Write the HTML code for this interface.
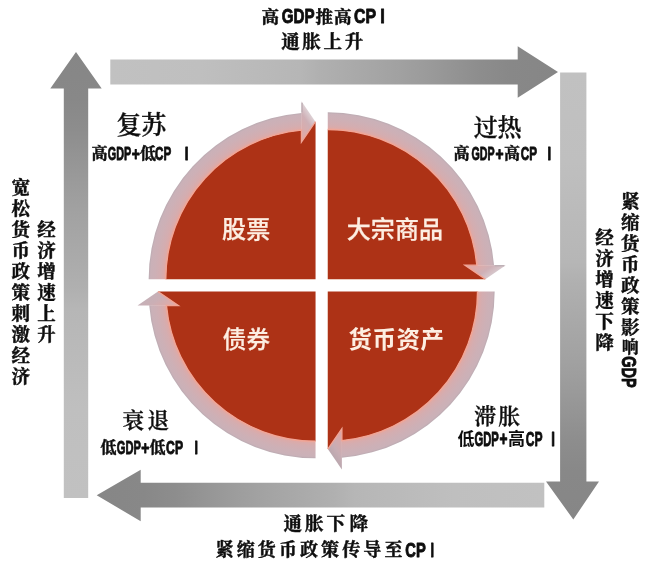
<!DOCTYPE html>
<html lang="zh-CN"><head><meta charset="utf-8"><title>美林投资时钟</title>
<style>html,body{margin:0;padding:0;background:#fff;}body{width:648px;height:563px;overflow:hidden;}svg{display:block;}
.kb{font-family:"Liberation Serif","Noto Serif CJK SC",serif;font-weight:700;fill:#0c0c0c;stroke:#0c0c0c;stroke-width:0.45;stroke-linejoin:round;}
.kr{font-family:"Liberation Serif","Noto Serif CJK SC",serif;font-weight:600;fill:#111;stroke:#111;stroke-width:0.35;stroke-linejoin:round;}
.hb{font-family:"Liberation Sans","Noto Sans CJK SC",sans-serif;font-weight:700;fill:#0c0c0c;}
.lb{font-family:"Liberation Sans",sans-serif;font-weight:700;fill:#0c0c0c;stroke:#0c0c0c;stroke-width:0.9;stroke-linejoin:round;}
.wh{font-family:"Liberation Sans","Noto Sans CJK SC",sans-serif;font-weight:500;fill:#fdeee2;stroke:#fdeee2;stroke-width:0.25;stroke-linejoin:round;}
.wk{font-family:"Liberation Sans","Noto Sans CJK SC",sans-serif;font-weight:700;fill:#fdeee2;}
</style></head><body>
<svg width="648" height="563" viewBox="0 0 648 563">
<defs>
<linearGradient id="gUp" gradientUnits="userSpaceOnUse" x1="0" y1="52" x2="0" y2="498"><stop offset="0.000" stop-color="#868686"/><stop offset="0.107" stop-color="#888888"/><stop offset="0.174" stop-color="#8d8d8d"/><stop offset="0.286" stop-color="#9a9a9a"/><stop offset="0.353" stop-color="#a1a1a1"/><stop offset="0.531" stop-color="#b0b0b0"/><stop offset="0.576" stop-color="#b6b6b6"/><stop offset="0.799" stop-color="#bfbfbf"/><stop offset="1.000" stop-color="#c1c1c1"/></linearGradient>
<linearGradient id="gRight" gradientUnits="userSpaceOnUse" x1="558" y1="0" x2="110" y2="0"><stop offset="0.000" stop-color="#868686"/><stop offset="0.107" stop-color="#888888"/><stop offset="0.174" stop-color="#8d8d8d"/><stop offset="0.286" stop-color="#9a9a9a"/><stop offset="0.353" stop-color="#a1a1a1"/><stop offset="0.531" stop-color="#b0b0b0"/><stop offset="0.576" stop-color="#b6b6b6"/><stop offset="0.799" stop-color="#bfbfbf"/><stop offset="1.000" stop-color="#c1c1c1"/></linearGradient>
<linearGradient id="gDown" gradientUnits="userSpaceOnUse" x1="0" y1="519.5" x2="0" y2="72.5"><stop offset="0.000" stop-color="#868686"/><stop offset="0.107" stop-color="#888888"/><stop offset="0.174" stop-color="#8d8d8d"/><stop offset="0.286" stop-color="#9a9a9a"/><stop offset="0.353" stop-color="#a1a1a1"/><stop offset="0.531" stop-color="#b0b0b0"/><stop offset="0.576" stop-color="#b6b6b6"/><stop offset="0.799" stop-color="#bfbfbf"/><stop offset="1.000" stop-color="#c1c1c1"/></linearGradient>
<linearGradient id="gLeft" gradientUnits="userSpaceOnUse" x1="96.7" y1="0" x2="544" y2="0"><stop offset="0.000" stop-color="#868686"/><stop offset="0.107" stop-color="#888888"/><stop offset="0.174" stop-color="#8d8d8d"/><stop offset="0.286" stop-color="#9a9a9a"/><stop offset="0.353" stop-color="#a1a1a1"/><stop offset="0.531" stop-color="#b0b0b0"/><stop offset="0.576" stop-color="#b6b6b6"/><stop offset="0.799" stop-color="#bfbfbf"/><stop offset="1.000" stop-color="#c1c1c1"/></linearGradient>
<radialGradient id="gBand" gradientUnits="userSpaceOnUse" cx="0" cy="0" r="180"><stop offset="0.8000" stop-color="#f0a596"/><stop offset="0.8322" stop-color="#eea699"/><stop offset="0.8411" stop-color="#dcaaa8"/><stop offset="0.8583" stop-color="#d4adb0"/><stop offset="0.8917" stop-color="#cdb0b6"/><stop offset="0.9167" stop-color="#cab1b8"/><stop offset="0.9233" stop-color="#c0adb4"/><stop offset="0.9283" stop-color="#baa9b0"/></radialGradient>
<linearGradient id="gHead0" gradientUnits="userSpaceOnUse" x1="-15" y1="-151" x2="3" y2="-163.5"><stop offset="0" stop-color="#dcabaa"/><stop offset="0.42" stop-color="#cfb0b6"/><stop offset="0.72" stop-color="#dccfd3"/><stop offset="1" stop-color="#f4eff0"/></linearGradient>
<linearGradient id="gHead1" gradientUnits="userSpaceOnUse" x1="-15" y1="-151" x2="3" y2="-163.5"><stop offset="0" stop-color="#e0aaa6"/><stop offset="0.42" stop-color="#cfb0b6"/><stop offset="0.72" stop-color="#d6c6cb"/><stop offset="1" stop-color="#ece5e7"/></linearGradient>
<linearGradient id="gHead2" gradientUnits="userSpaceOnUse" x1="-15" y1="-151" x2="3" y2="-163.5"><stop offset="0" stop-color="#d8a9a9"/><stop offset="0.42" stop-color="#c8adb4"/><stop offset="0.72" stop-color="#bca8af"/><stop offset="1" stop-color="#a99ca3"/></linearGradient>
<linearGradient id="gHead3" gradientUnits="userSpaceOnUse" x1="-15" y1="-151" x2="3" y2="-163.5"><stop offset="0" stop-color="#dcabaa"/><stop offset="0.42" stop-color="#cbafb5"/><stop offset="0.72" stop-color="#c6b0b7"/><stop offset="1" stop-color="#bdadb3"/></linearGradient>
<filter id="soft" x="-5%" y="-5%" width="110%" height="110%"><feGaussianBlur stdDeviation="0.6"/></filter>
<filter id="softt" x="-5%" y="-20%" width="110%" height="140%"><feGaussianBlur stdDeviation="0.35"/></filter>
</defs>
<rect width="648" height="563" fill="#ffffff"/>
<g filter="url(#soft)">
<path fill="url(#gUp)" d="M76 52 L101.7 88.5 L88.2 88.5 L88.2 498 L63.8 498 L63.8 88.5 L50.3 88.5 Z"/>
<path fill="url(#gRight)" d="M558 72 L517.7 97.8 L517.7 84.6 L110.3 84.6 L110.3 59.4 L517.7 59.4 L517.7 46.2 Z"/>
<path fill="url(#gDown)" d="M573.3 519.5 L546 481.4 L560.1 481.4 L560.1 72.4 L586.4 72.4 L586.4 481.4 L599 481.4 Z"/>
<path fill="url(#gLeft)" d="M96.7 495.3 L140.7 469.7 L140.7 482.7 L544.3 482.7 L544.3 507.5 L140.7 507.5 L140.7 521.2 Z"/>
</g>
<g filter="url(#soft)">
<g transform="translate(321.65 285.35) rotate(0) translate(-6.10 -6.10)">
<path d="M0 0 L0 -157.60 L-14.10 -148.13 L-14.10 -149.13 A149.8 149.8 0 0 0 -149.80 0 Z" fill="#ad3014"/>
<path d="M-166.90 0 A166.9 166.9 0 0 1 -13.80 -166.33 L-13.80 -149.16 A149.8 149.8 0 0 0 -149.80 0 Z" fill="url(#gBand)"/>
<path d="M-14.10 -178.00 L-0.10 -157.60 L-14.10 -137.20 Z" fill="url(#gHead0)"/>
<path d="M-13.50 -176.50 L-13.50 -166.80" stroke="#bcaeb4" stroke-width="1.3" fill="none"/>
<path d="M-149.80 0 A149.8 149.8 0 0 1 -14.10 -149.13 L-14.10 -137.20 L-0.10 -157.60" fill="none" stroke="#f0a596" stroke-width="1.4"/>
</g>
<g transform="translate(321.65 285.35) rotate(90) translate(-6.10 -6.10)">
<path d="M0 0 L0 -157.60 L-14.10 -148.13 L-14.10 -149.13 A149.8 149.8 0 0 0 -149.80 0 Z" fill="#ad3014"/>
<path d="M-166.90 0 A166.9 166.9 0 0 1 -13.80 -166.33 L-13.80 -149.16 A149.8 149.8 0 0 0 -149.80 0 Z" fill="url(#gBand)"/>
<path d="M-14.10 -178.00 L-0.10 -157.60 L-14.10 -137.20 Z" fill="url(#gHead1)"/>
<path d="M-13.50 -176.50 L-13.50 -166.80" stroke="#bcaeb4" stroke-width="1.3" fill="none"/>
<path d="M-149.80 0 A149.8 149.8 0 0 1 -14.10 -149.13 L-14.10 -137.20 L-0.10 -157.60" fill="none" stroke="#f0a596" stroke-width="1.4"/>
</g>
<g transform="translate(321.65 285.35) rotate(180) translate(-6.10 -6.10)">
<path d="M0 0 L0 -157.60 L-14.10 -148.13 L-14.10 -149.13 A149.8 149.8 0 0 0 -149.80 0 Z" fill="#ad3014"/>
<path d="M-166.90 0 A166.9 166.9 0 0 1 -13.80 -166.33 L-13.80 -149.16 A149.8 149.8 0 0 0 -149.80 0 Z" fill="url(#gBand)"/>
<path d="M-14.10 -178.00 L-0.10 -157.60 L-14.10 -137.20 Z" fill="url(#gHead2)"/>
<path d="M-149.80 0 A149.8 149.8 0 0 1 -14.10 -149.13 L-14.10 -137.20 L-0.10 -157.60" fill="none" stroke="#f0a596" stroke-width="1.4"/>
</g>
<g transform="translate(321.65 285.35) rotate(270) translate(-6.10 -6.10)">
<path d="M0 0 L0 -157.60 L-14.10 -148.13 L-14.10 -149.13 A149.8 149.8 0 0 0 -149.80 0 Z" fill="#ad3014"/>
<path d="M-166.90 0 A166.9 166.9 0 0 1 -13.80 -166.33 L-13.80 -149.16 A149.8 149.8 0 0 0 -149.80 0 Z" fill="url(#gBand)"/>
<path d="M-14.10 -178.00 L-0.10 -157.60 L-14.10 -137.20 Z" fill="url(#gHead3)"/>
<path d="M-149.80 0 A149.8 149.8 0 0 1 -14.10 -149.13 L-14.10 -137.20 L-0.10 -157.60" fill="none" stroke="#f0a596" stroke-width="1.4"/>
</g>
</g>
<g filter="url(#softt)">
<text class="wh" font-size="24" x="222.10 246.20" y="238.12">股票</text>
<text class="wh" font-size="24" x="346.70 370.80 394.90 419.00" y="238.12">大宗商品</text>
<text class="wh" font-size="23.5" x="222.85 246.45" y="348.23">债券</text>
<text class="wk" font-size="23.5" x="348.55 372.55 396.55 420.55" y="348.23">货币资产</text>
<text class="kr" font-size="25" x="116.50 141.30" y="134.20">复苏</text>
<text class="kr" font-size="24" x="473.80 497.50" y="136.32">过热</text>
<text class="kr" font-size="21.5" x="122.45 147.45" y="427.57">衰退</text>
<text class="kr" font-size="22" x="474.30 498.20" y="424.16">滞胀</text>
<text y="159.70"><tspan class="kb" font-size="16" x="91.50" dy="-1.20">高</tspan><tspan dy="1.20" class="lb" font-size="18" x="107.83" textLength="23.47" lengthAdjust="spacingAndGlyphs">GDP</tspan><tspan class="lb" font-size="18" x="131.77" textLength="8.05" lengthAdjust="spacingAndGlyphs">+</tspan><tspan class="kb" font-size="16" x="140.00" dy="-1.20">低</tspan><tspan dy="1.20" class="lb" font-size="18" x="155.11" textLength="16.19" lengthAdjust="spacingAndGlyphs">CP</tspan><tspan class="lb" font-size="18" x="184.64" textLength="3.72" lengthAdjust="spacingAndGlyphs">I</tspan></text>
<text y="159.70"><tspan class="kb" font-size="16" x="453.50" dy="-1.00">高</tspan><tspan dy="1.00" class="lb" font-size="18" x="471.53" textLength="23.07" lengthAdjust="spacingAndGlyphs">GDP</tspan><tspan class="lb" font-size="18" x="495.47" textLength="8.05" lengthAdjust="spacingAndGlyphs">+</tspan><tspan class="kb" font-size="16" x="504.00" dy="-1.00">高</tspan><tspan dy="1.00" class="lb" font-size="18" x="520.81" textLength="16.29" lengthAdjust="spacingAndGlyphs">CP</tspan><tspan class="lb" font-size="18" x="547.56" textLength="3.58" lengthAdjust="spacingAndGlyphs">I</tspan></text>
<text y="453.70"><tspan class="kb" font-size="16" x="100.60" dy="-1.20">低</tspan><tspan dy="1.20" class="lb" font-size="18" x="116.82" textLength="24.08" lengthAdjust="spacingAndGlyphs">GDP</tspan><tspan class="lb" font-size="18" x="141.37" textLength="8.05" lengthAdjust="spacingAndGlyphs">+</tspan><tspan class="kb" font-size="16" x="149.40" dy="-1.20">低</tspan><tspan dy="1.20" class="lb" font-size="18" x="166.10" textLength="17.01" lengthAdjust="spacingAndGlyphs">CP</tspan><tspan class="lb" font-size="18" x="194.58" textLength="3.44" lengthAdjust="spacingAndGlyphs">I</tspan></text>
<text y="446.00"><tspan class="hb" font-size="17" x="457.40" dy="-0.70">低</tspan><tspan dy="0.70" class="lb" font-size="19.6" x="474.40" textLength="24.43" lengthAdjust="spacingAndGlyphs">GDP</tspan><tspan class="lb" font-size="19.6" x="499.44" textLength="8.01" lengthAdjust="spacingAndGlyphs">+</tspan><tspan class="hb" font-size="17" x="508.10" dy="-0.70">高</tspan><tspan dy="0.70" class="lb" font-size="19.6" x="525.68" textLength="16.75" lengthAdjust="spacingAndGlyphs">CP</tspan><tspan class="lb" font-size="19.6" x="551.22" textLength="3.66" lengthAdjust="spacingAndGlyphs">I</tspan></text>
<text y="23.30"><tspan class="kb" font-size="17.5" x="261.45" dy="-0.75">高</tspan><tspan dy="0.75" class="lb" font-size="19.8" x="281.72" textLength="32.85" lengthAdjust="spacingAndGlyphs">GDP</tspan><tspan class="kb" font-size="17.5" x="315.45 333.95" dy="-0.75">推高</tspan><tspan dy="0.75" class="lb" font-size="19.8" x="354.11" textLength="22.07" lengthAdjust="spacingAndGlyphs">CP</tspan><tspan class="lb" font-size="19.8" x="380.18" textLength="4.55" lengthAdjust="spacingAndGlyphs">I</tspan></text>
<text class="kb" font-size="18.5" x="281.15 302.35 323.55 344.75" y="48.13">通胀上升</text>
<text class="kb" font-size="18.5" x="283.45 304.95 326.55 349.45" y="530.33">通胀下降</text>
<text y="557.30"><tspan class="kb" font-size="18" x="215.60 236.70 257.80 278.90 300.00 321.10 342.20 363.30 384.40" dy="-1.26">紧缩货币政策传导至</tspan><tspan dy="1.26" class="lb" font-size="19.8" x="405.33" textLength="20.43" lengthAdjust="spacingAndGlyphs">CP</tspan><tspan class="lb" font-size="19.8" x="430.44" textLength="3.52" lengthAdjust="spacingAndGlyphs">I</tspan></text>
<text class="kb" font-size="18.5" x="11.55 11.55 11.55 11.55 11.55 11.55 11.55 11.55 11.55 11.55" y="194.03 215.03 236.03 257.03 278.03 299.03 320.03 341.03 362.03 383.03">宽松货币政策刺激经济</text>
<text class="kb" font-size="18.5" x="37.15 37.15 37.15 37.15 37.15 37.15" y="235.63 256.63 277.63 298.63 319.63 340.63">经济增速上升</text>
<text class="kb" font-size="18.5" x="620.95 620.95 620.95 620.95 620.95 620.95 620.95" y="207.53 228.53 249.53 270.53 291.53 312.53 333.53">紧缩货币政策影<tspan font-size="16.5" x="621.95" y="353.07">响</tspan></text>
<text class="lb" font-size="20.2" transform="translate(622.2 356.2) rotate(90) scale(0.72 1)" x="0" y="0">GDP</text>
<text class="kb" font-size="18.5" x="595.25 595.25 595.25 595.25 595.25 595.25" y="244.03 265.03 286.03 307.03 328.03 349.03">经济增速下降</text>
</g>
</svg></body></html>
